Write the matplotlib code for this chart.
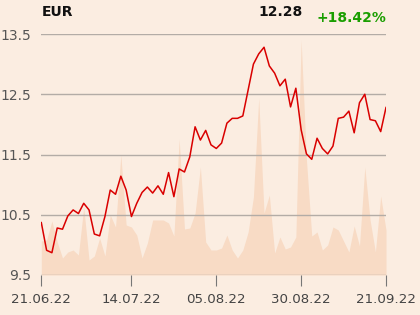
import matplotlib
matplotlib.use("Agg")
import matplotlib.pyplot as plt

# Price series (EUR), one value per trading day, 21.06.22 .. 21.09.22
price = [10.37, 9.91, 9.87, 10.28, 10.26, 10.48, 10.58, 10.52, 10.69, 10.58,
         10.18, 10.15, 10.47, 10.91, 10.84, 11.14, 10.91, 10.47, 10.69, 10.87,
         10.96, 10.86, 10.98, 10.84, 11.20, 10.80, 11.26, 11.21, 11.46, 11.96,
         11.74, 11.90, 11.66, 11.60, 11.69, 12.02, 12.10, 12.10, 12.14, 12.57,
         13.00, 13.17, 13.28, 12.97, 12.85, 12.64, 12.75, 12.29, 12.60, 11.91,
         11.51, 11.42, 11.77, 11.60, 11.51, 11.64, 12.10, 12.12, 12.22, 11.86,
         12.36, 12.50, 12.08, 12.06, 11.88, 12.28]

# Volume (arbitrary units)
volume = [34, 35, 54, 33, 17, 23, 25, 20, 68, 15,
          19, 37, 19, 60, 48, 120, 50, 48, 40, 17,
          32, 55, 55, 55, 52, 39, 136, 46, 47, 62,
          108, 33, 25, 25, 27, 40, 25, 17, 25, 43,
          78, 177, 62, 80, 22, 38, 26, 28, 38, 235,
          115, 39, 43, 25, 30, 48, 45, 34, 23, 49,
          29, 108, 55, 23, 79, 45]

tick_idx = [0, 17, 33, 49, 65]
tick_labels = ["21.06.22", "14.07.22", "05.08.22", "30.08.22", "21.09.22"]
y_ticks = [9.5, 10.5, 11.5, 12.5, 13.5]

bg = "#fbede1"
x = list(range(len(price)))

fig = plt.figure(figsize=(4.2, 3.15), dpi=100, facecolor=bg)
ax = fig.add_axes([41.3 / 420, 1 - 275 / 315, (386 - 41.3) / 420, 241 / 315])
ax.set_facecolor(bg)

# volume area on a twin axis behind the price line
axv = ax.twinx()
axv.fill_between(x, 0, volume, color="#f8dbc5", lw=0, zorder=1)
axv.set_ylim(0, 241)
axv.set_yticks([])
axv.set_zorder(0)
ax.set_zorder(1)
ax.patch.set_visible(False)

ax.plot(x, price, color="#d90000", lw=1.1, zorder=3)
ax.set_xlim(0, len(price) - 1)
ax.set_ylim(9.5, 13.5)
ax.set_yticks(y_ticks)
ax.set_yticklabels([str(v) for v in y_ticks])
ax.grid(axis="y", color="#b3aca6", lw=1.0)
ax.set_xticks(tick_idx)
ax.set_xticklabels(tick_labels)
ax.tick_params(axis="x", length=8, color="#777777", labelcolor="#444444",
               labelsize=9.6, pad=5)
ax.tick_params(axis="y", length=0, labelcolor="#555555", labelsize=10, pad=7)
for a in (ax, axv):
    for s in a.spines.values():
        s.set_visible(False)

fig.text(42 / 420, 1 - 16 / 315, "EUR", fontsize=10, fontweight="bold",
         color="#111111")
fig.text(303 / 420, 1 - 16 / 315, "12.28", fontsize=10, fontweight="bold",
         color="#111111", ha="right")
fig.text(386 / 420, 1 - 22 / 315, "+18.42%", fontsize=10, fontweight="bold",
         color="#1a9e00", ha="right")

fig.savefig("out.png", dpi=100, facecolor=bg)
